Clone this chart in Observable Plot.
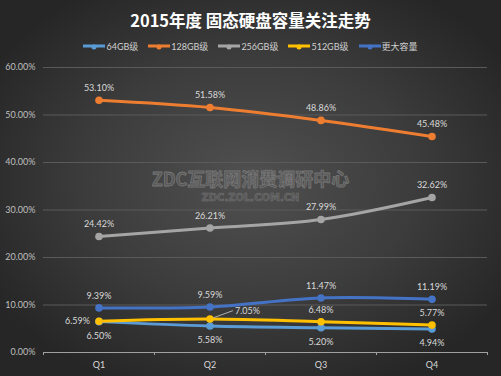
<!DOCTYPE html>
<html><head><meta charset="utf-8">
<script src="https://cdn.jsdelivr.net/npm/d3@7"></script>
<script src="https://cdn.jsdelivr.net/npm/@observablehq/plot@0.6"></script>
<style>
html,body{margin:0;padding:0;background:#262626;overflow:hidden;}
#wrap{position:relative;width:501px;height:376px;overflow:hidden;
 background:radial-gradient(ellipse 60% 60% at 50% 48%, #505050 0%, #3c3c3c 55%, #262626 100%);
 font-family:Lato,"Noto Sans CJK SC",sans-serif;}
#title{position:absolute;left:0;top:9px;width:501px;text-align:center;color:#fff;font-weight:bold;font-size:16.5px;line-height:22px;font-family:"Noto Sans CJK SC",sans-serif;}
#legend{position:absolute;left:0;top:40px;width:501px;display:flex;justify-content:center;gap:10px;color:#d0d0d0;font-size:9px;line-height:14px;}
#legend span{display:flex;align-items:center;}
#chart{position:absolute;left:0;top:55px;}
.wm{position:absolute;left:0;width:501px;text-align:center;font-weight:bold;color:#585858;-webkit-text-stroke:0.8px #767676;font-family:"Noto Sans CJK SC",sans-serif;}
</style></head>
<body><div id="wrap">
<div id="title">2015年度 固态硬盘容量关注走势</div>
<div id="legend"></div>
<div class="wm" style="top:166px;font-size:18px;line-height:24px;">ZDC互联网消费调研中心</div>
<div class="wm" style="top:191px;font-size:10px;line-height:14px;-webkit-text-stroke:0.5px #767676;font-family:'DejaVu Sans',sans-serif;">ZDC.ZOL.COM.CN</div>
<div id="chart"></div>
</div>
<script>
const quarters = ["Q1","Q2","Q3","Q4"];
const seriesNames = ["64GB级","128GB级","256GB级","512GB级","更大容量"];
const s64 = [6.50, 5.58, 5.20, 4.94];
const s128 = [53.10, 51.58, 48.86, 45.48];
const s256 = [24.42, 26.21, 27.99, 32.62];
const s512 = [6.59, 7.05, 6.48, 5.77];
const sMore = [9.39, 9.59, 11.47, 11.19];
const yTicks = [0, 10, 20, 30, 40, 50, 60];
const colors = ["#5b9bd5","#ed7d31","#a5a5a5","#ffc000","#4472c4"];
// label placement per series
const pos64 = ["below","below","below","below"];
const pos128 = ["above","above","above","above"];
const pos256 = ["above","above","above","above"];
const pos512 = ["left","leader","above","above"];
const posMore = ["above","above","above","above"];

const allValues = [s64, s128, s256, s512, sMore];
const allPos = [pos64, pos128, pos256, pos512, posMore];
const rows = [];
seriesNames.forEach((s, k) => allValues[k].forEach((v, i) =>
  rows.push({series: s, i, q: quarters[i], value: v, pos: allPos[k][i]})));

// legend
const leg = document.getElementById("legend");
seriesNames.forEach((s, k) => {
  const el = document.createElement("span");
  el.innerHTML = `<svg width="22" height="8" style="margin-right:1px"><line x1="0" y1="3" x2="22" y2="3" stroke="${colors[k]}" stroke-width="3" stroke-linecap="round"/><circle cx="11" cy="4" r="2.5" fill="${colors[k]}"/></svg>${s}`;
  leg.appendChild(el);
});

const fmt = d => d.toFixed(2) + "%";
const lblStyle = {fill: "#d9d9d9", fontSize: 9};
const chart = Plot.plot({
  width: 501, height: 321,
  marginTop: 12, marginBottom: 24, marginLeft: 43, marginRight: 14,
  style: {background: "transparent", color: "#bfbfbf", fontSize: "9px", fontFamily: "Lato, 'Noto Sans CJK SC', sans-serif"},
  x: {type: "linear", domain: [-0.5, 3.5], label: null},
  y: {domain: [0, 60], label: null},
  color: {domain: seriesNames, range: colors},
  marks: [
    Plot.gridY(yTicks.filter(d => d > 0), {stroke: "#5a5a5a", strokeOpacity: 1, strokeWidth: 1}),
    Plot.ruleY([0], {stroke: "#a0a0a0", strokeWidth: 1}),
    Plot.axisY({ticks: yTicks, tickSize: 0, tickPadding: 8, tickFormat: fmt, fill: "#bfbfbf", label: null}),
    Plot.axisX({ticks: [-0.5, 0.5, 1.5, 2.5, 3.5], tickSize: 3, tickFormat: () => "", stroke: "#a0a0a0", label: null}),
    Plot.axisX({ticks: [0, 1, 2, 3], tickSize: 0, tickPadding: 9, tickFormat: i => quarters[i], fill: "#d9d9d9", label: null}),
    Plot.line(rows, {x: "i", y: "value", z: "series", stroke: "series", strokeWidth: 3, curve: "catmull-rom", strokeLinecap: "round"}),
    Plot.dot(rows, {x: "i", y: "value", fill: "series", r: 3.8}),
    Plot.vector(rows.filter(d => d.pos === "leader"), {x: "i", y: "value", length: 24, rotate: 70, anchor: "start", stroke: "#bfbfbf", strokeWidth: 0.8,
      shape: {draw(ctx, l) { ctx.moveTo(0, -4); ctx.lineTo(0, -l); }}}),
    Plot.text(rows.filter(d => d.pos === "above"), {x: "i", y: "value", text: d => fmt(d.value), dy: -12, ...lblStyle}),
    Plot.text(rows.filter(d => d.pos === "below"), {x: "i", y: "value", text: d => fmt(d.value), dy: 14, ...lblStyle}),
    Plot.text(rows.filter(d => d.pos === "left"), {x: "i", y: "value", text: d => fmt(d.value), dx: -9, textAnchor: "end", ...lblStyle}),
    Plot.text(rows.filter(d => d.pos === "leader"), {x: "i", y: "value", text: d => fmt(d.value), dx: 25, dy: -8, textAnchor: "start", ...lblStyle})
  ]
});
document.getElementById("chart").appendChild(chart);
</script>
</body></html>
